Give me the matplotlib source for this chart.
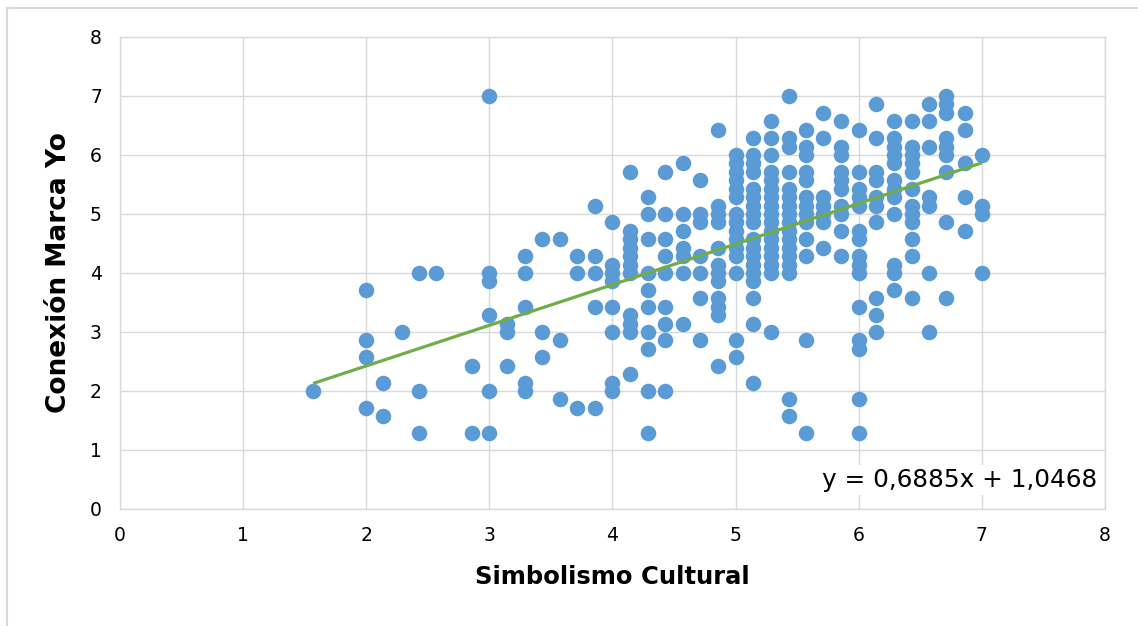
import matplotlib.pyplot as plt
from matplotlib.lines import Line2D
import numpy as np


# x value of each column of points and the y values found in that column
COLUMN_X = [
    1.57, 2.00, 2.14, 2.29, 2.43, 2.57, 2.86, 3.00, 3.14, 3.29,
    3.43, 3.57, 3.71, 3.86, 4.00, 4.14, 4.29, 4.43, 4.57, 4.71,
    4.86, 5.00, 5.14, 5.29, 5.43, 5.57, 5.71, 5.86, 6.00, 6.14,
    6.29, 6.43, 6.57, 6.71, 6.86, 7.00,
]
COLUMN_Y = [
    [2.00],
    [3.71, 2.86, 2.57, 1.71],
    [2.14, 1.57],
    [3.00],
    [4.00, 2.00, 1.29],
    [4.00],
    [2.43, 1.29],
    [7.00, 4.00, 3.86, 3.29, 2.00, 1.29],
    [3.14, 3.00, 2.43],
    [4.29, 4.00, 3.43, 2.14, 2.00],
    [4.57, 3.00, 2.57],
    [4.57, 2.86, 1.86],
    [4.29, 4.00, 1.71],
    [5.14, 4.29, 4.00, 3.43, 1.71],
    [4.86, 4.14, 4.00, 3.86, 3.43, 3.00, 2.14, 2.00],
    [5.71, 4.71, 4.57, 4.43, 4.29, 4.14, 4.00, 3.29, 3.14, 3.00, 2.29],
    [5.29, 5.00, 4.57, 4.00, 3.71, 3.43, 3.00, 2.71, 2.00, 1.29],
    [5.71, 5.00, 4.57, 4.29, 4.00, 3.43, 3.14, 2.86, 2.00],
    [5.86, 5.00, 4.71, 4.43, 4.29, 4.00, 3.14],
    [5.57, 5.00, 4.86, 4.29, 4.00, 3.57, 2.86],
    [6.43, 5.14, 5.00, 4.86, 4.43, 4.14, 4.00, 3.86, 3.57, 3.43, 3.29, 2.43],
    [6.00, 5.86, 5.71, 5.57, 5.43, 5.29, 5.00, 4.86, 4.71, 4.57, 4.43, 4.29,
     4.00, 2.86, 2.57],
    [6.29, 6.00, 5.86, 5.71, 5.43, 5.29, 5.14, 5.00, 4.86, 4.57, 4.43, 4.29,
     4.14, 4.00, 3.86, 3.57, 3.14, 2.14],
    [6.57, 6.29, 6.00, 5.71, 5.57, 5.43, 5.29, 5.14, 5.00, 4.86, 4.71, 4.57,
     4.43, 4.29, 4.14, 4.00, 3.00],
    [7.00, 6.29, 6.14, 5.71, 5.43, 5.29, 5.14, 5.00, 4.86, 4.71, 4.57, 4.43,
     4.29, 4.14, 4.00, 1.86, 1.57],
    [6.43, 6.14, 6.00, 5.71, 5.57, 5.29, 5.14, 5.00, 4.86, 4.57, 4.29, 2.86, 1.29],
    [6.71, 6.29, 5.29, 5.14, 5.00, 4.86, 4.43],
    [6.57, 6.14, 6.00, 5.71, 5.57, 5.43, 5.14, 5.00, 4.71, 4.29],
    [6.43, 5.71, 5.43, 5.29, 5.14, 4.71, 4.57, 4.29, 4.14, 4.00, 3.43, 2.86,
     2.71, 1.86, 1.29],
    [6.86, 6.29, 5.71, 5.57, 5.29, 5.14, 4.86, 3.57, 3.29, 3.00],
    [6.57, 6.29, 6.14, 6.00, 5.86, 5.57, 5.43, 5.29, 5.00, 4.14, 4.00, 3.71],
    [6.57, 6.14, 6.00, 5.86, 5.71, 5.43, 5.14, 5.00, 4.86, 4.57, 4.29, 3.57],
    [6.86, 6.57, 6.14, 5.29, 5.14, 4.00, 3.00],
    [7.00, 6.86, 6.71, 6.29, 6.14, 6.00, 5.71, 4.86, 3.57],
    [6.71, 6.43, 5.86, 5.29, 4.71],
    [6.00, 5.14, 5.00, 4.00],
]

SLOPE = 0.6885
INTERCEPT = 1.0468
EQUATION_LABEL = "y = 0,6885x + 1,0468"
X_LABEL = "Simbolismo Cultural"
Y_LABEL = "Conexión Marca Yo"
TICKS = [0, 1, 2, 3, 4, 5, 6, 7, 8]

POINT_COLOR = "#5B9BD5"
LINE_COLOR = "#70AD47"
GRID_COLOR = "#D9D9D9"


def main() -> None:
    x_points = np.concatenate([[x] * len(ys) for x, ys in zip(COLUMN_X, COLUMN_Y, strict=True)])
    y_points = np.concatenate([np.array(ys) for ys in COLUMN_Y])

    plt.rcParams["font.family"] = ["DejaVu Sans"]
    fig = plt.figure(figsize=(11.38, 6.26), dpi=100)
    ax = fig.add_axes([0.1054, 0.187, 0.8656, 0.754])

    ax.scatter(x_points, y_points, s=125, color=POINT_COLOR, linewidths=0, zorder=3)

    x_fit = np.array([x_points.min(), x_points.max()])
    ax.plot(x_fit, SLOPE * x_fit + INTERCEPT, color=LINE_COLOR, linewidth=2.3,
            solid_capstyle="butt", zorder=4)

    ax.set_xlim(0, 8)
    ax.set_ylim(0, 8)
    ax.set_xticks(TICKS)
    ax.set_yticks(TICKS)
    ax.tick_params(length=0, labelsize=13.5, colors="#000000")
    ax.tick_params(axis="x", pad=12)
    ax.tick_params(axis="y", pad=13)
    ax.grid(True, color=GRID_COLOR, linewidth=1.0, zorder=0)
    ax.set_axisbelow(True)
    for spine in ax.spines.values():
        spine.set_color(GRID_COLOR)
        spine.set_linewidth(1.0)

    ax.set_xlabel(X_LABEL, fontsize=17.5, fontweight="bold", labelpad=15)
    ax.set_ylabel(Y_LABEL, fontsize=19, fontweight="bold", labelpad=13)

    ax.text(7.94, 0.49, EQUATION_LABEL, fontsize=17.8, ha="right", va="center",
            bbox=dict(facecolor="white", edgecolor="none", pad=2), zorder=5)

    # outer chart frame, only the top and left edges are in view
    frame_kw = dict(color=GRID_COLOR, linewidth=1.5, transform=fig.transFigure)
    fig.add_artist(Line2D([7 / 1138, 1.0], [1 - 8 / 626, 1 - 8 / 626], **frame_kw))
    fig.add_artist(Line2D([7 / 1138, 7 / 1138], [0.0, 1 - 8 / 626], **frame_kw))

    fig.savefig("out.png", dpi=100)
    plt.close(fig)


if __name__ == "__main__":
    main()
